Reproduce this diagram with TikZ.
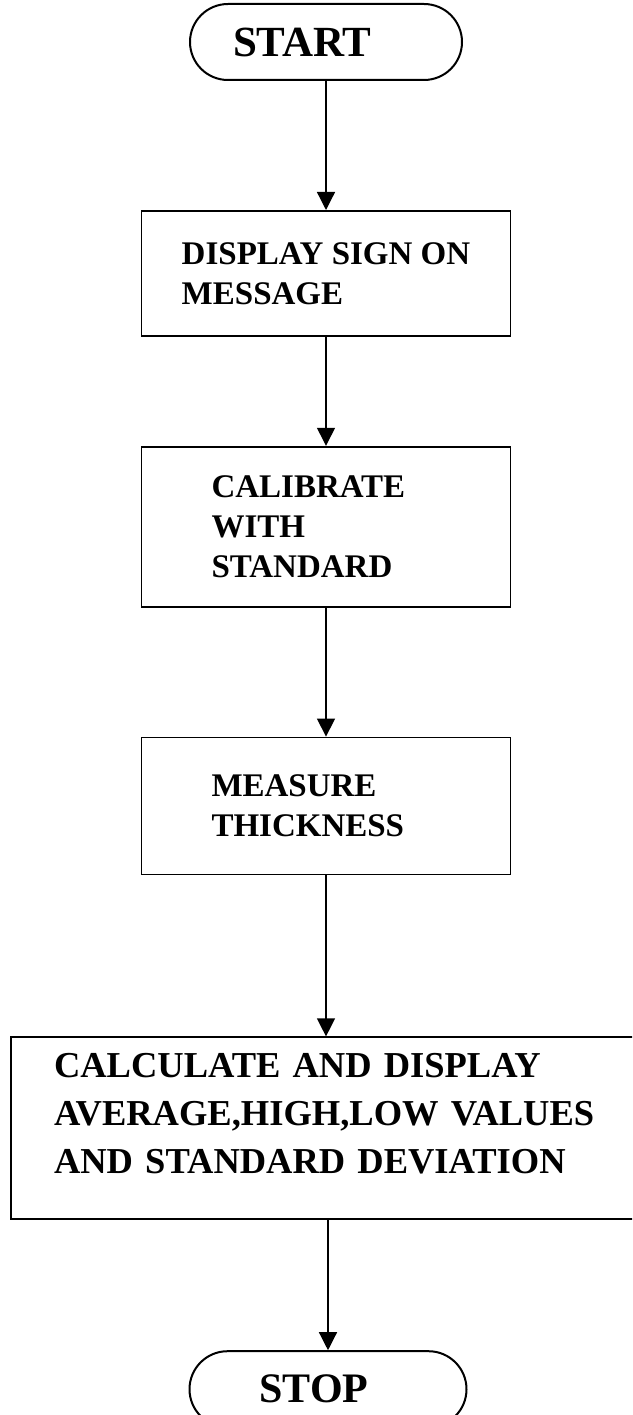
\documentclass[tikz,border=0pt]{standalone}
\usepackage{fontspec}
\setmainfont{Liberation Serif}
\usetikzlibrary{positioning,arrows.meta}

\begin{document}
\begin{tikzpicture}[
                        x = 1pt, y = 1pt,
                        >= {Triangle[width=18pt,length=18pt]},
                        shorten > = 0pt,
                        line width = 1.3pt
                        ]

                        \tikzstyle{terminal}=[
                                draw = black,
                                rectangle,
                                rounded corners = 38pt,
                                line width = 2pt,
                                align = left,
                                minimum height = 76pt,
                                font = \fontsize{43}{50}\selectfont\bfseries
                        ]

                        \tikzstyle{process}=[
                                draw = black,
                                rectangle,
                                line width = 1.8pt,
                                align = left,
                                minimum width = 369pt,
                                font = \fontsize{33}{40}\selectfont\bfseries
                        ]

                        \useasboundingbox (0,0) rectangle (632,-1415);
                        \clip (0,0) rectangle (632,-1415);

                        \node[terminal, inner xsep=43pt, text width=186pt] (1) at (326,-42) {START};
                        \node[process, minimum height=125pt] (2) [below=129pt of 1] {DISPLAY SIGN ON\\MESSAGE};
                        \node[process, inner xsep=70pt, text width=229pt, minimum height=160pt] (3) [below=109pt of 2] {CALIBRATE\\WITH\\STANDARD};
                        \node[process, inner xsep=70pt, text width=229pt, minimum height=137pt] (4) [below=129pt of 3] {MEASURE\\THICKNESS};
                        \node[process, inner xsep=43pt, text width=560pt, minimum height=182pt,
                              font=\fontsize{36.5}{48}\selectfont\bfseries] (5) [below=161pt of 4, xshift=8pt] {CALCULATE AND DISPLAY\\AVERAGE,HIGH,LOW VALUES\\AND STANDARD DEVIATION\\[-18pt]\mbox{}};
                        \node[terminal, inner xsep=70pt, text width=137pt, font=\fontsize{42}{50}\selectfont\bfseries] (6) [below=130pt of 5, xshift=-6pt] {STOP};

                        \draw[->] (1) -- (2);
                        \draw[->] (2) -- (3);
                        \draw[->] (3) -- (4);
                        \draw[->] (4.south) -- (4.south |- 5.north);
                        \draw[->] (6.north |- 5.south) -- (6.north);
                \end{tikzpicture}
\end{document}
